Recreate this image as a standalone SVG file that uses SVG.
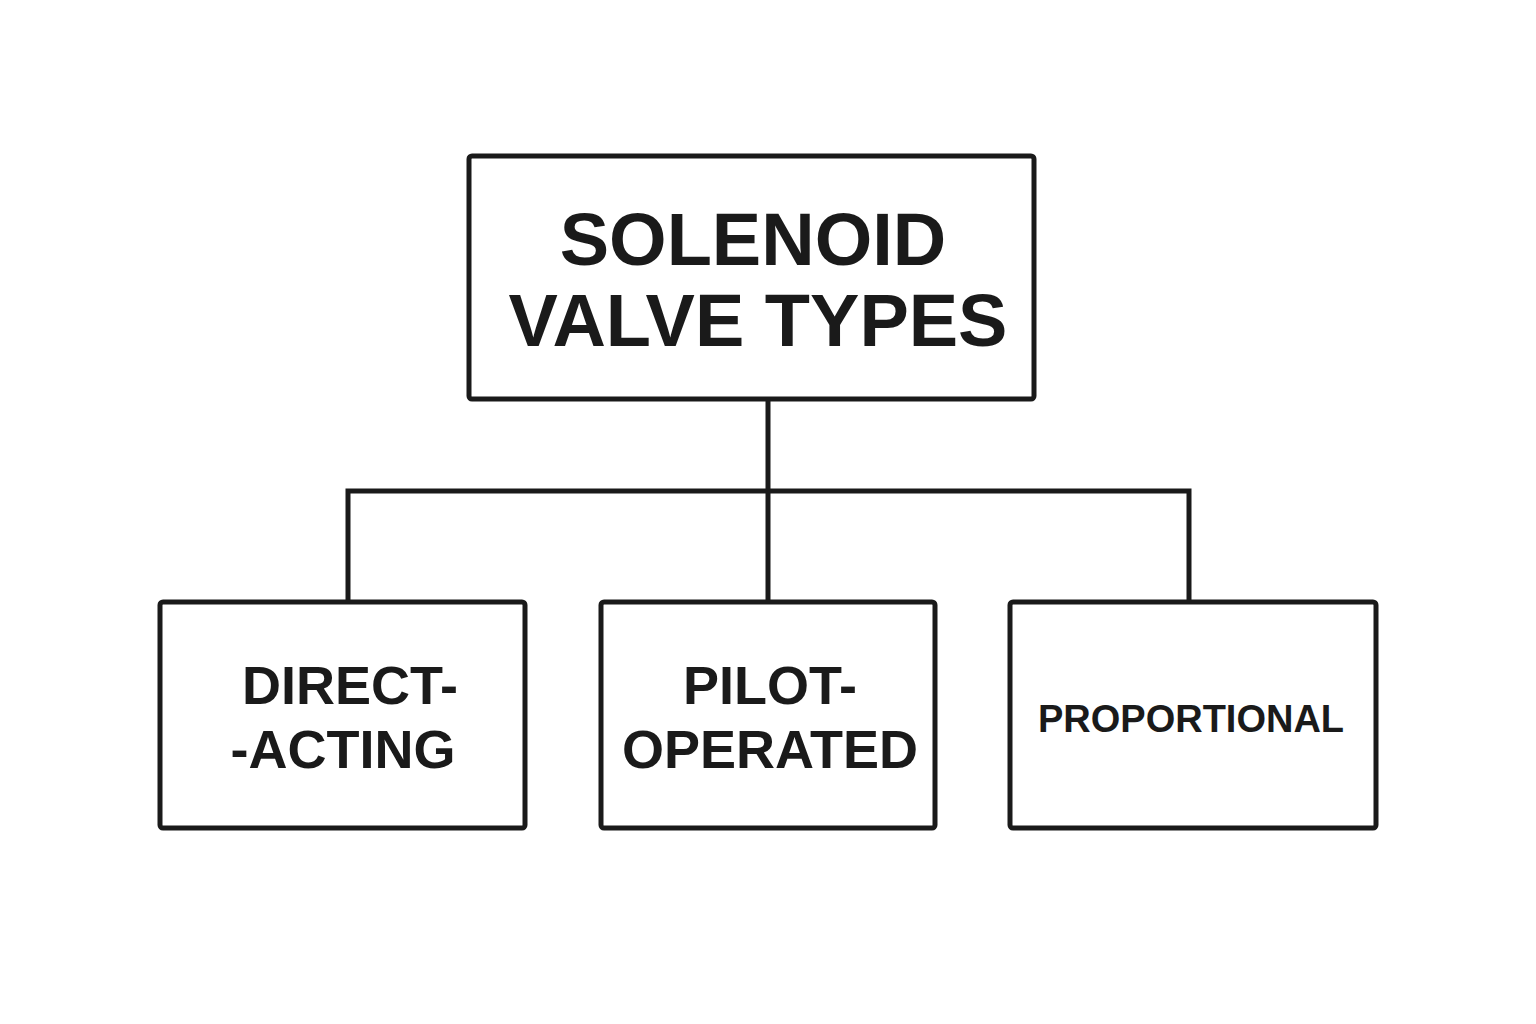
<svg xmlns="http://www.w3.org/2000/svg" width="1536" height="1024" viewBox="0 0 1536 1024">
<style>
.box{fill:#fff;stroke:#1a1a1a;stroke-width:5;}
.c{fill:none;stroke:#1a1a1a;stroke-width:5;}
text{font-family:"Liberation Sans",Arial,sans-serif;font-weight:bold;fill:#1a1a1a;text-anchor:middle;}
</style>
<rect width="1536" height="1024" fill="#fff"/>
<g id="connectors">
<path class="c" d="M768 400V600M348 600V491H1189V600"/>
</g>
<g id="root"><rect class="box" x="469" y="156" width="565" height="243" rx="3"/>
<text x="753" y="265" font-size="74">SOLENOID</text>
<text x="758" y="346" font-size="74">VALVE TYPES</text></g>
<g id="direct"><rect class="box" x="160" y="602" width="365" height="226" rx="3"/>
<text x="350" y="704" font-size="54">DIRECT-</text>
<text x="343" y="768" font-size="54">-ACTING</text></g>
<g id="pilot"><rect class="box" x="601" y="602" width="334" height="226" rx="3"/>
<text x="770" y="704" font-size="54">PILOT-</text>
<text x="770" y="768" font-size="54">OPERATED</text></g>
<g id="prop"><rect class="box" x="1010" y="602" width="366" height="226" rx="3"/>
<text x="1191" y="732" font-size="38">PROPORTIONAL</text></g>
</svg>
